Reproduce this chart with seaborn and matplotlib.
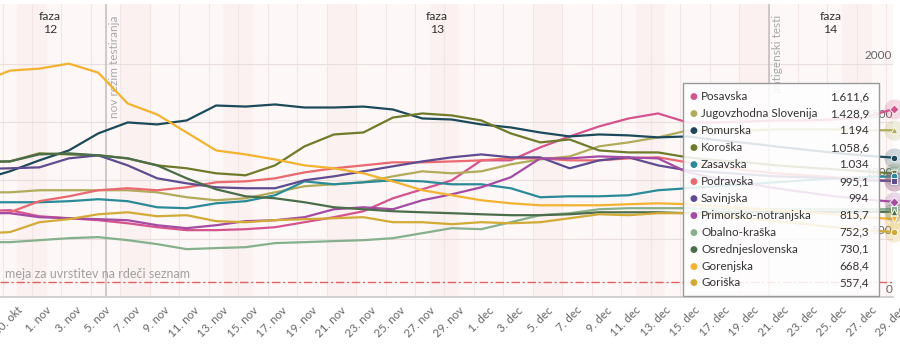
import numpy as np
import pandas as pd
import matplotlib
matplotlib.use("Agg")
import matplotlib.pyplot as plt
import seaborn as sns
from matplotlib.patches import Rectangle
from matplotlib.transforms import ScaledTranslation, blended_transform_factory

# ---------------- data ----------------
origin = pd.Timestamp("2020-11-01")
dates = pd.to_datetime(["2020-10-29", "2020-10-30"]).append(
    pd.date_range("2020-11-01", "2020-12-29", freq="2D")) + pd.Timedelta(hours=12)

regions = ["Posavska", "Jugovzhodna Slovenija", "Pomurska", "Koroška", "Zasavska",
           "Podravska", "Savinjska", "Primorsko-notranjska", "Obalno-kraška",
           "Osrednjeslovenska", "Gorenjska", "Goriška"]

posavska = [740, 744, 692, 675, 658, 632, 598, 573, 573, 581, 598, 641, 684, 735, 846, 923,
            1000, 1171, 1171, 1282, 1376, 1462, 1530, 1573, 1496, 1496, 1504, 1513, 1513,
            1521, 1538, 1611.6]
jugovzhodna = [897, 897, 915, 915, 915, 915, 897, 855, 829, 846, 897, 949, 966, 983, 1034,
               1077, 1060, 1077, 1137, 1179, 1205, 1291, 1325, 1368, 1427, 1427, 1427, 1436,
               1436, 1436, 1429, 1428.9]
pomurska = [1040, 1077, 1171, 1256, 1402, 1496, 1479, 1513, 1641, 1632, 1650, 1624, 1624,
            1632, 1607, 1530, 1521, 1479, 1453, 1410, 1376, 1393, 1385, 1368, 1376, 1345,
            1320, 1290, 1262, 1235, 1212, 1194]
koroska = [1160, 1162, 1231, 1222, 1214, 1188, 1128, 1103, 1060, 1043, 1128, 1291, 1393,
           1410, 1538, 1573, 1556, 1513, 1402, 1325, 1350, 1256, 1239, 1239, 1197, 1171,
           1154, 1128, 1111, 1094, 1077, 1058.6]
zasavska = [812, 812, 812, 821, 838, 821, 769, 761, 803, 821, 872, 991, 966, 983, 1000, 991,
            966, 966, 932, 855, 863, 863, 872, 915, 932, 949, 966, 983, 1000, 1017, 1026, 1034]
podravska = [715, 726, 821, 863, 915, 932, 915, 940, 983, 991, 1017, 1068, 1103, 1128, 1154,
             1154, 1162, 1171, 1188, 1188, 1171, 1171, 1188, 1197, 1154, 1120, 1085, 1060,
             1043, 1026, 1009, 995.1]
savinjska = [1100, 1103, 1111, 1188, 1214, 1128, 1017, 974, 940, 932, 932, 1000, 1034, 1077,
             1120, 1162, 1197, 1222, 1197, 1197, 1103, 1171, 1197, 1128, 1085, 1068, 1051,
             1034, 1026, 1017, 1000, 994]
primorsko = [720, 718, 684, 675, 667, 658, 615, 590, 615, 650, 658, 684, 752, 769, 752, 829,
             880, 940, 1026, 1188, 1188, 1205, 1197, 1188, 1068, 1017, 974, 932, 897, 863,
             838, 815.7]
obalno = [470, 470, 487, 504, 513, 487, 453, 410, 419, 427, 462, 470, 479, 487, 504, 547,
          590, 581, 641, 701, 718, 752, 761, 761, 761, 752, 752, 752, 752, 752, 752, 752.3]
osrednje = [1160, 1162, 1222, 1231, 1214, 1188, 1128, 1017, 923, 863, 846, 812, 769, 752,
            735, 726, 718, 709, 701, 701, 709, 726, 726, 726, 718, 726, 726, 728, 728, 730,
            730, 730.1]
gorenjska = [1890, 1940, 1957, 2000, 1923, 1658, 1564, 1410, 1256, 1222, 1179, 1128, 1103,
             1060, 991, 915, 872, 829, 803, 786, 786, 786, 795, 803, 795, 778, 761, 744,
             726, 709, 684, 668.4]
goriska = [550, 556, 641, 667, 709, 726, 692, 701, 650, 641, 658, 667, 675, 684, 641, 641,
           624, 641, 632, 641, 675, 709, 701, 718, 718, 701, 675, 650, 624, 598, 573, 557.4]

series = [posavska, jugovzhodna, pomurska, koroska, zasavska, podravska, savinjska,
          primorsko, obalno, osrednje, gorenjska, goriska]

colors = ["#d4548d", "#b2ab5b", "#1c4a5b", "#6f7a2b", "#2b8a98", "#ea6870", "#5f4b8f",
          "#a44ba3", "#86b08b", "#4b6d49", "#f3b230", "#d2ab36"]
markers = ["D", "^", "o", "v", "o", "s", "s", "D", "s", "^", "v", "o"]

tick_dates = pd.date_range("2020-10-30", "2020-12-29", freq="2D")
tick_labels = ["30. okt", "1. nov", "3. nov", "5. nov", "7. nov", "9. nov", "11. nov",
               "13. nov", "15. nov", "17. nov", "19. nov", "21. nov", "23. nov", "25. nov",
               "27. nov", "29. nov", "1. dec", "3. dec", "5. dec", "7. dec", "9. dec",
               "11. dec", "13. dec", "15. dec", "17. dec", "19. dec", "21. dec", "23. dec",
               "25. dec", "27. dec", "29. dec"]
y_ticks = [0, 500, 1000, 1500, 2000]
threshold = 130
events = [("2020-11-06", "nov režim testiranja"), ("2020-12-21", "antigenski testi")]
phases = [("2020-11-02 05:00", "faza\n12"), ("2020-11-28 12:00", "faza\n13"),
          ("2020-12-25 05:00", "faza\n14")]

# ---------------- build ----------------
x = ((dates - origin) / pd.Timedelta(days=1)).to_numpy()
df = pd.concat([pd.DataFrame({"day": x, "value": s, "regija": r})
                for r, s in zip(regions, series)], ignore_index=True)
palette = dict(zip(regions, colors))

sns.set_theme(style="white")
plt.rcParams["font.family"] = ["Lato", "DejaVu Sans"]

fig = plt.figure(figsize=(9, 3.45), dpi=100)
fig.patch.set_facecolor("white")
ax = fig.add_axes([0, 48 / 345, 893 / 900, 293 / 345])
ax.set_facecolor("#fdf8f7")

xmin, xmax = -2.17, 58.45
ax.set_xlim(xmin, xmax)
ax.set_ylim(0, 2511)

# weekend bands
all_days = pd.date_range("2020-10-24", "2020-12-31")
for d in all_days[all_days.dayofweek == 5]:
    s = (d - origin) / pd.Timedelta(days=1)
    ax.axvspan(s, s + 2, color="#faf1f0", lw=0, zorder=0)

tick_x = ((tick_dates - origin) / pd.Timedelta(days=1)).to_numpy()
for t in tick_x:
    ax.axvline(t, color="#f1e6e4", lw=0.8, zorder=0.5)
for yv in y_ticks:
    ax.axhline(yv, color="#e9dedc", lw=0.8, zorder=0.5)

sns.lineplot(data=df, x="day", y="value", hue="regija", hue_order=regions,
             palette=palette, estimator=None, linewidth=1.6, legend=False, ax=ax,
             zorder=3)

# threshold line
ax.axhline(threshold, color="#e0605e", lw=1.0, dashes=(6, 2, 1.5, 2), zorder=2)
ax.text(-1.83, threshold + 67, "meja za uvrstitev na rdeči seznam", color="#a0a0a0",
        fontsize=9, va="center", ha="left", zorder=2)

# event plot lines
for dstr, lab in events:
    ev = (pd.Timestamp(dstr) - origin) / pd.Timedelta(days=1)
    ax.axvline(ev, color="#c4bcbc", lw=1.1, zorder=1)
    ax.text(ev + 0.25, 2416, lab, rotation=90, color="#a8a8a8", fontsize=8.5,
            va="top", ha="left", zorder=1)

# phase labels
for dstr, lab in phases:
    ph = (pd.Timestamp(dstr) - origin) / pd.Timedelta(days=1)
    ax.text(ph, 2455, lab, ha="center", va="top", fontsize=8.8, color="#333333",
            linespacing=1.25, zorder=2)

# right y labels
trans = blended_transform_factory(ax.transAxes, ax.transData)
for yv in y_ticks:
    ax.text(0.999, yv + 20, f"{yv}", transform=trans, ha="right", va="bottom",
            fontsize=8.5, color="#666666", zorder=2)

# axes styling
for sp in ["top", "left", "right"]:
    ax.spines[sp].set_visible(False)
ax.spines["bottom"].set_color("#cccccc")
ax.set_xlabel("")
ax.set_ylabel("")
ax.set_yticks([])
ax.set_xticks(tick_x)
ax.set_xticklabels(tick_labels, rotation=45, ha="right", va="top", rotation_mode="anchor",
                   fontsize=8.3, color="#666666")
ax.tick_params(axis="x", direction="out", length=5.5, width=0.8, color="#cccccc", pad=0)
offset = ScaledTranslation(0.14, 0.0, fig.dpi_scale_trans)
for lbl in ax.get_xticklabels():
    lbl.set_transform(lbl.get_transform() + offset)

# end markers with halo
for r, s, c, m in zip(regions, series, colors, markers):
    ax.scatter([x[-1]], [s[-1]], s=210, color=c, alpha=0.22, lw=0, clip_on=False, zorder=6)
    ax.scatter([x[-1]], [s[-1]], s=22, color=c, marker=m, lw=0.6, edgecolor="white",
               clip_on=False, zorder=7)

# tooltip-like box
W, H = 900.0, 345.0
box = Rectangle((683 / W, 1 - 296 / H), 196 / W, 213 / H, transform=fig.transFigure,
                facecolor="white", alpha=0.86, edgecolor="none", zorder=20)
fig.patches.append(box)
border = Rectangle((683 / W, 1 - 296 / H), 196 / W, 213 / H, transform=fig.transFigure,
                   facecolor="none", edgecolor="#9a9a9a", lw=1.0, zorder=21)
fig.patches.append(border)


def fmt(v):
    if float(v).is_integer():
        return f"{int(v):,}".replace(",", ".")
    return f"{v:,.1f}".replace(",", "X").replace(".", ",").replace("X", ".")


for i, (r, s, c) in enumerate(zip(regions, series, colors)):
    yp = 1 - (97 + 16.9 * i) / H
    fig.text(693 / W, yp, "●", color=c, fontsize=6.5, ha="center", va="center",
             family=["DejaVu Sans"], zorder=22)
    fig.text(701 / W, yp, r, color="#333333", fontsize=8.4, ha="left", va="center",
             zorder=22)
    fig.text(869 / W, yp, fmt(s[-1]), color="#333333", fontsize=8.4, ha="right",
             va="center", zorder=22)

fig.savefig("out.png", dpi=100, facecolor="white")
